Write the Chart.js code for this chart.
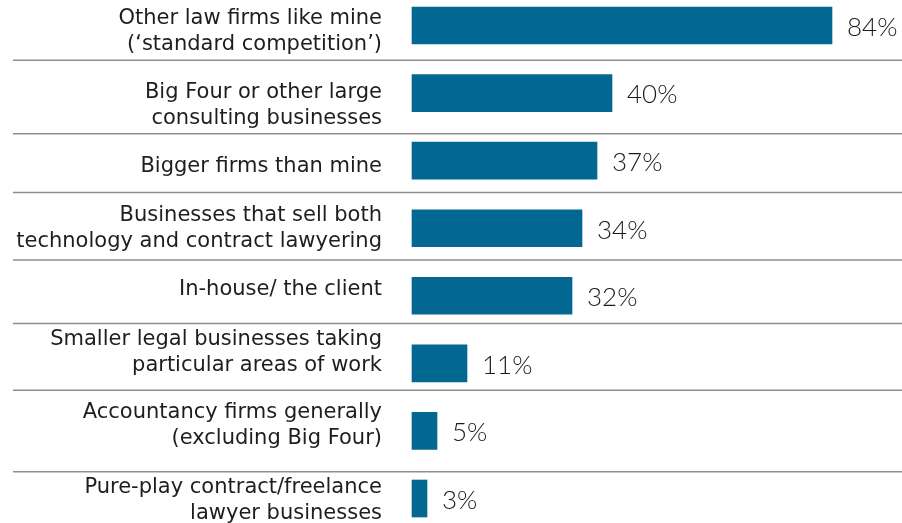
<!DOCTYPE html>
<html>
<head>
<meta charset="utf-8">
<script src="https://cdn.jsdelivr.net/npm/chart.js@4/dist/chart.umd.min.js"></script>
<style>
  html, body { margin: 0; padding: 0; background: #ffffff; }
  #wrap { width: 902px; height: 523px; }
</style>
</head>
<body>
<div id="wrap"><canvas id="chart" width="902" height="523"></canvas></div>
<script>
// Who respondents see as their competition (share of respondents)
const categories = [
  ["Other law firms like mine", "(\u2018standard competition\u2019)"],
  ["Big Four or other large", "consulting businesses"],
  ["Bigger firms than mine"],
  ["Businesses that sell both", "technology and contract lawyering"],
  ["In-house/ the client"],
  ["Smaller legal businesses taking", "particular areas of work"],
  ["Accountancy firms generally", "(excluding Big Four)"],
  ["Pure-play contract/freelance", "lawyer businesses"]
];
const shares = [84, 40, 37, 34, 32, 11, 5, 3];

// Fine vertical nudges for the category text blocks and the rules between rows
const labelShift = [6, 12, 6, 0, -6, -11, -5, 2];
const ruleShift = [1, 7, -2, -2, -6, -7, 7];

const BAR_COLOR = "#036891";
const LABEL_FONT = "21px 'DejaVu Sans', sans-serif";
const VALUE_FONT = "300 26px Lato, sans-serif";
const LINE_HEIGHT = 26;

const rowDecor = {
  id: "rowDecor",
  afterDatasetsDraw(chart) {
    const { ctx, chartArea } = chart;
    const y = chart.scales.y;
    const meta = chart.getDatasetMeta(0);
    ctx.save();

    // rules between rows
    ctx.strokeStyle = "#8f8f8f";
    ctx.lineWidth = 1.5;
    for (let i = 0; i < categories.length - 1; i++) {
      const yy = (y.getPixelForTick(i) + y.getPixelForTick(i + 1)) / 2 + ruleShift[i];
      ctx.beginPath();
      ctx.moveTo(13, yy);
      ctx.lineTo(chart.width, yy);
      ctx.stroke();
    }

    // category text, right-aligned against the bars
    ctx.fillStyle = "#1e1e1e";
    ctx.font = LABEL_FONT;
    ctx.textAlign = "right";
    ctx.textBaseline = "middle";
    categories.forEach((lines, i) => {
      const cy = y.getPixelForTick(i) + labelShift[i];
      const top = cy - (lines.length - 1) * LINE_HEIGHT / 2;
      lines.forEach((t, k) => ctx.fillText(t, chartArea.left - 30, top + k * LINE_HEIGHT));
    });

    // value labels at the bar ends
    ctx.fillStyle = "#1a1a1a";
    ctx.font = VALUE_FONT;
    ctx.textAlign = "left";
    meta.data.forEach((bar, i) => {
      ctx.fillText(shares[i] + "%", bar.x + 15, bar.y + 2);
    });
    ctx.restore();
  }
};

new Chart(document.getElementById("chart"), {
  type: "bar",
  data: {
    labels: categories,
    datasets: [{
      data: shares,
      backgroundColor: BAR_COLOR,
      borderWidth: 0,
      barThickness: 37,
      clip: false
    }]
  },
  options: {
    indexAxis: "y",
    responsive: false,
    animation: false,
    layout: { padding: { left: 412, right: 0, top: 25.5, bottom: 24.5 } },
    scales: {
      x: { min: 0, max: 98, display: false },
      y: { type: "category", offset: false, display: false }
    },
    plugins: {
      legend: { display: false },
      tooltip: { enabled: false }
    }
  },
  plugins: [rowDecor]
});
</script>
</body>
</html>
